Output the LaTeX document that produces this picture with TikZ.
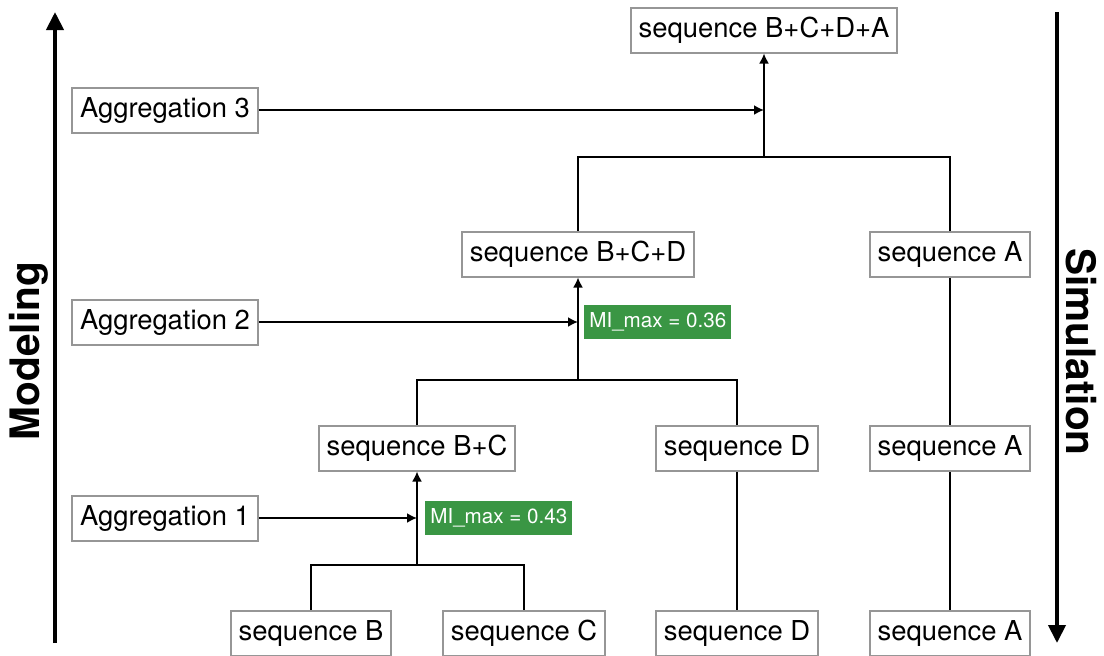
\documentclass[tikz,border=0pt]{standalone}
\usepackage{fontspec}
\setmainfont{TeX Gyre Heros}
\usetikzlibrary{positioning,arrows.meta}
\definecolor{migreen}{RGB}{58,150,68}
\definecolor{boxgray}{RGB}{150,150,150}

\begin{document}
\begin{tikzpicture}[
    x=0.5pt, y=-0.5pt,
    seq/.style={draw=boxgray, line width=1pt, fill=white, minimum height=22.5pt, inner xsep=4pt,
        font=\fontsize{13.7}{16}\selectfont},
    mi/.style={fill=migreen, text=white, minimum height=17pt, inner xsep=2.5pt, anchor=west,
        font=\fontsize{10.3}{12}\selectfont},
    link/.style={line width=0.9pt},
    mergearr/.style={line width=0.9pt, -{Latex[length=5pt,width=5pt]}},
    axis/.style={line width=2pt, -{Triangle[length=9pt,width=8.5pt]}},
    side/.style={font=\fontsize{20.3}{23}\bfseries}
]
    \useasboundingbox (0,0) rectangle (1104,655);

    % Leaves
    \node[seq] (seqB)  at (311,633) {sequence B};
    \node[seq] (seqC)  at (524,633) {sequence C};
    \node[seq] (seqD)  at (737,633) {sequence D};
    \node[seq] (seqA)  at (950,633) {sequence A};

    % Level 1
    \node[seq] (seqBC)  at (417,448) {sequence B+C};
    \node[seq] (seqDb)  at (737,448) {sequence D};
    \node[seq] (seqAb)  at (950,448) {sequence A};

    % Level 2
    \node[seq] (seqBCD) at (578,254) {sequence B+C+D};
    \node[seq] (seqAc)  at (950,254) {sequence A};

    % Level 3
    \node[seq] (seqall) at (764,30) {sequence B+C+D+A};

    % Aggregation steps
    \node[seq] (agg1) at (165,518) {Aggregation 1};
    \node[seq] (agg2) at (165,322) {Aggregation 2};
    \node[seq] (agg3) at (165,110) {Aggregation 3};

    \coordinate (jBC)  at (417,565);
    \coordinate (jBCD) at (578,380);
    \coordinate (jall) at (764,157);

    % Merges
    \draw[link] (seqB.north) |- (jBC) -| (seqC.north);
    \draw[mergearr] (jBC) -- (seqBC.south);
    \draw[link] (seqBC.north) |- (jBCD) -| (seqDb.north);
    \draw[mergearr] (jBCD) -- (seqBCD.south);
    \draw[link] (seqBCD.north) |- (jall) -| (seqAc.north);
    \draw[mergearr] (jall) -- (seqall.south);

    % Pass-through
    \draw[link] (seqD.north) -- (seqDb.south);
    \draw[link] (seqA.north) -- (seqAb.south);
    \draw[link] (seqAb.north) -- (seqAc.south);

    % Aggregation arrows
    \draw[mergearr] (agg1.east) -- (agg1.east -| jBC) coordinate (a1);
    \draw[mergearr] (agg2.east) -- (agg2.east -| jBCD) coordinate (a2);
    \draw[mergearr] (agg3.east) -- (agg3.east -| jall);

    \node[mi] (mi1) at ([xshift=4pt]a1) {MI\_max = 0.43};
    \node[mi] (mi2) at ([xshift=3pt]a2) {MI\_max = 0.36};

    % Side axes
    \coordinate (mlo) at (55,643);
    \coordinate (mhi) at (55,12);
    \coordinate (shi) at (1057,12);
    \coordinate (slo) at (1057,643);
    \draw[axis] (mlo) -- (mhi);
    \draw[axis] (shi) -- (slo);
    \node[side, rotate=90]  (model) at (29,351) {Modeling};
    \node[side, rotate=-90] (simul) at (1081,352) {Simulation};
\end{tikzpicture}
\end{document}
